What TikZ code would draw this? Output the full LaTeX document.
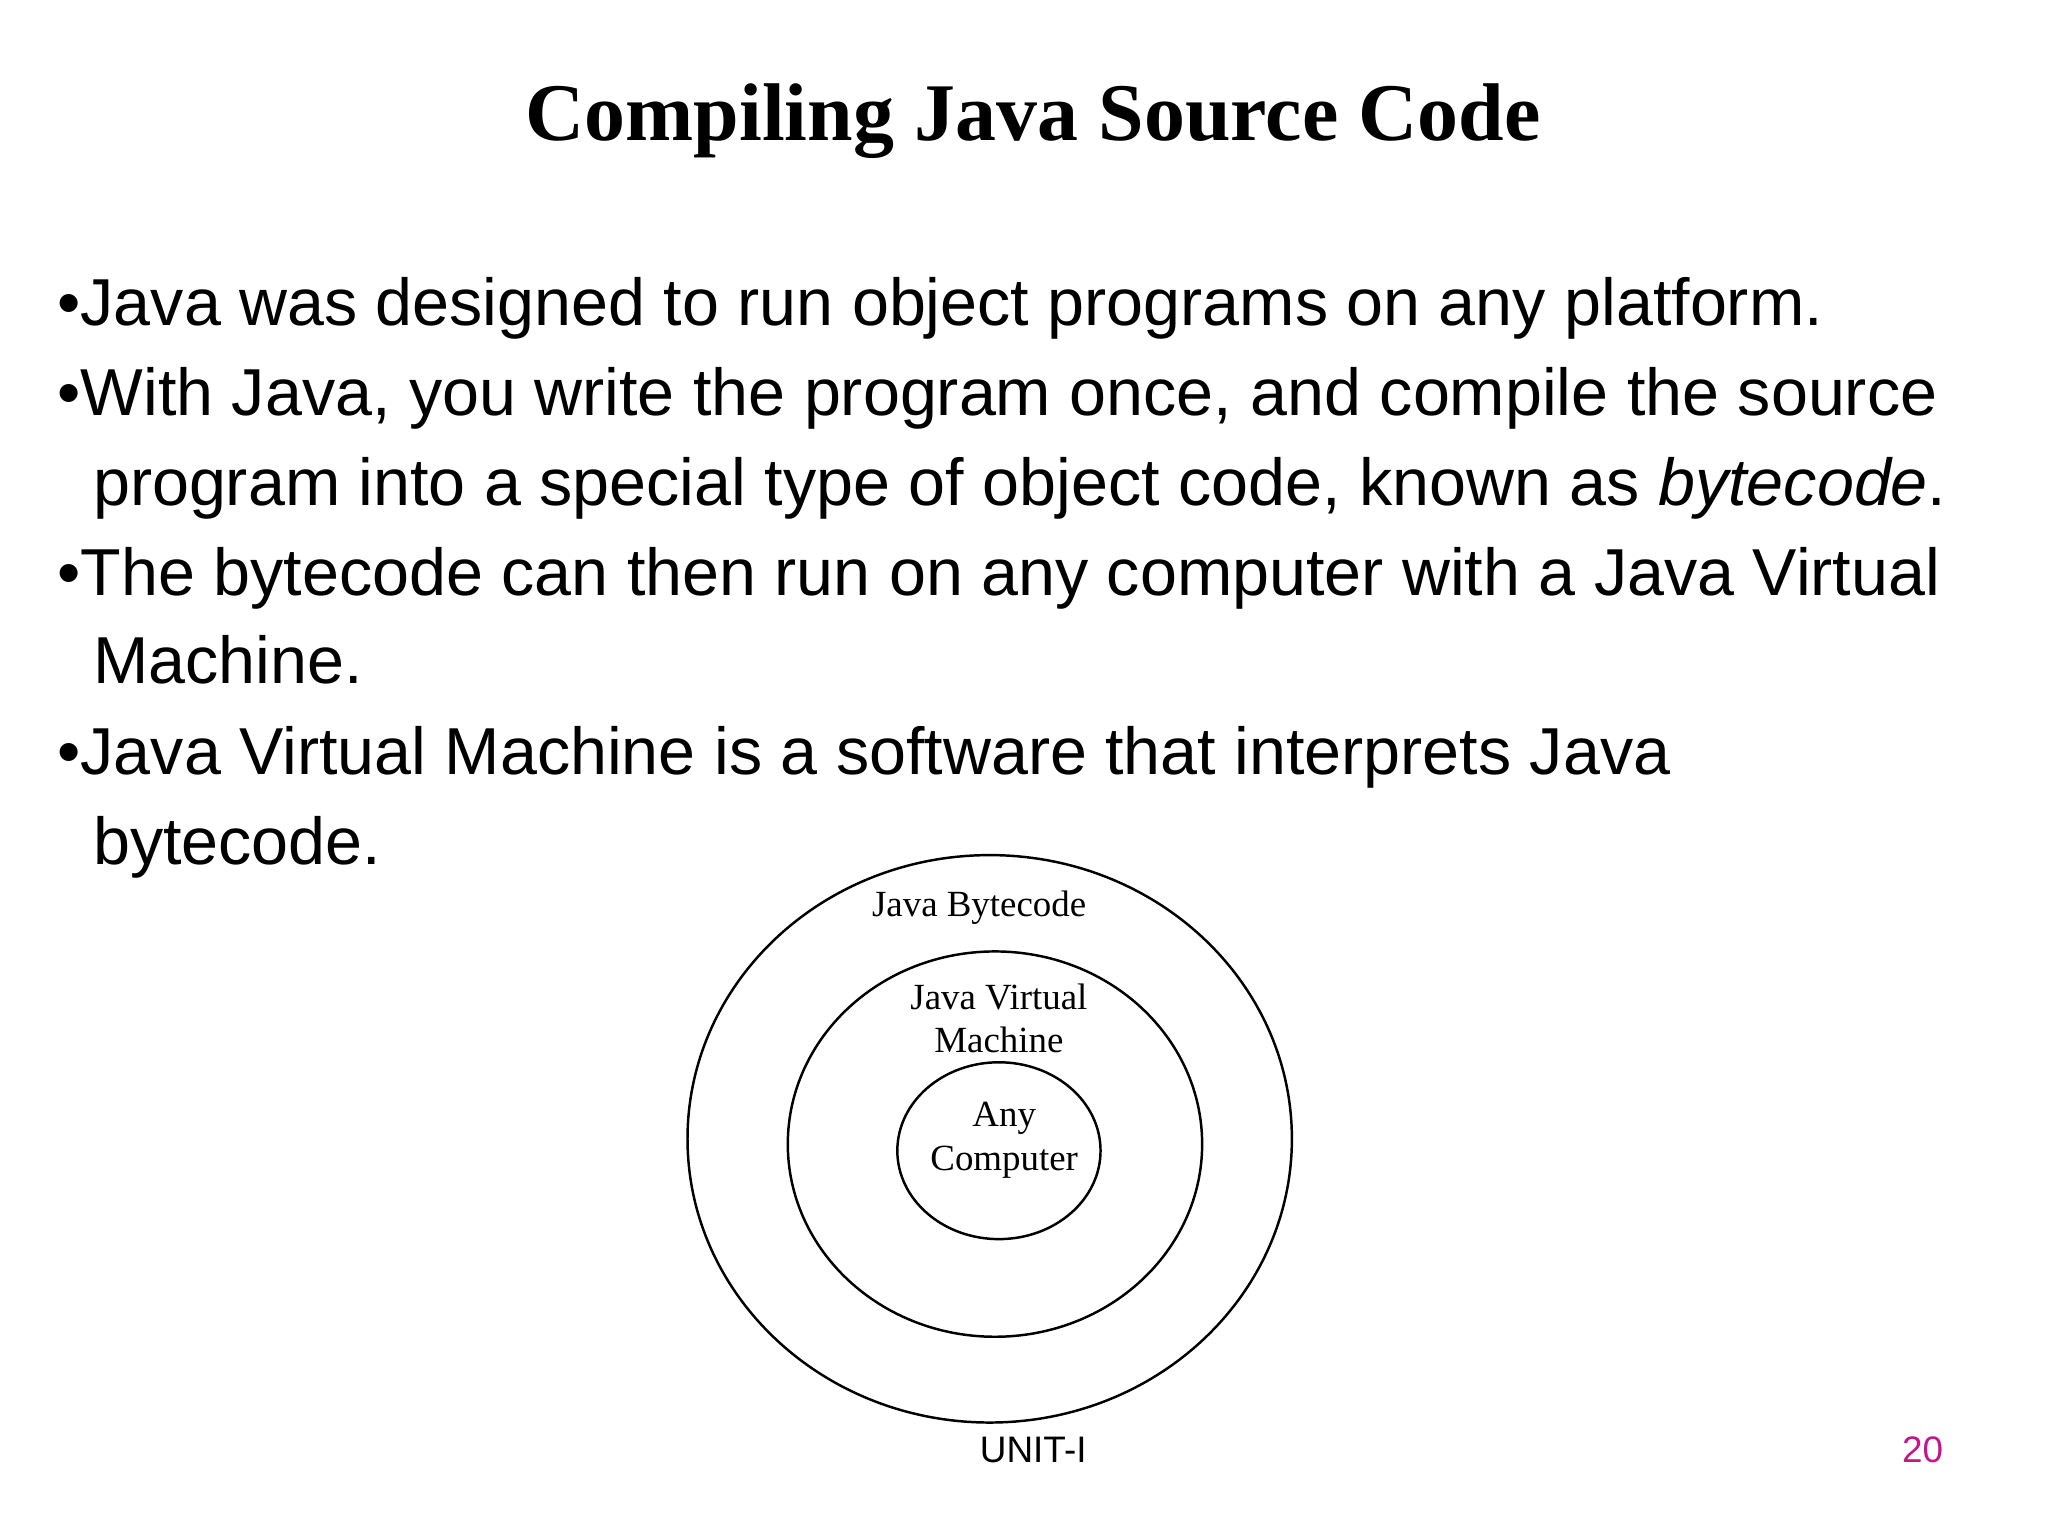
\documentclass[tikz,border=0pt]{standalone}
\usepackage{fontspec}
\setmainfont{Liberation Serif}
\setsansfont{Liberation Sans}
\usetikzlibrary{positioning}

\begin{document}
\begin{tikzpicture}[
    x=0.0132cm, y=-0.0132cm,
    title/.style={font=\fontsize{23.3}{27}\selectfont\bfseries},
    bullet/.style={anchor=base west, inner sep=0pt, font=\sffamily\fontsize{18.9}{22}\selectfont},
    ring/.style={draw, line width=0.7pt},
    label/.style={fill=white, inner sep=1pt, align=center, font=\fontsize{10.5}{12.3}\selectfont}
]
\useasboundingbox[fill=white] (0,0) rectangle (1552,1164);

% Title
\node[title] (ttl) at (783,92) {Compiling Java Source Code};

% Bullets
\node[bullet] (b1) at (43,247) {\textbullet Java was designed to run object programs on any platform.};
\node[bullet] (b2) at (43,315) {\textbullet With Java, you write the program once, and compile the source};
\node[bullet] (b2b) at (70,383) {program into a special type of object code, known as \textit{bytecode}.};
\node[bullet] (b3) at (43,451) {\textbullet The bytecode can then run on any computer with a Java Virtual};
\node[bullet] (b3b) at (70,518) {Machine.};
\node[bullet] (b4) at (43,587) {\textbullet Java Virtual Machine is a software that interprets Java};
\node[bullet] (b4b) at (70,655) {bytecode.};

% Rings
\draw[ring] (750,863) ellipse [x radius=229, y radius=215];
\draw[ring] (754,867) ellipse [x radius=157, y radius=146];
\draw[ring] (757,872) ellipse [x radius=77, y radius=67];

% Ring labels
\node[label] (bc) at (742,688) {Java Bytecode};
\node[label] (jvm) at (757,772) {Java Virtual\\Machine};
\node[label, fill=none] (pc) at (761,864) {Any\\Computer};

% Footer
\node[font=\sffamily\fontsize{10.5}{12}\selectfont] (unit) at (783,1099) {UNIT-I};
\node[font=\sffamily\fontsize{10.5}{12}\selectfont, text={rgb,255:red,200;green,20;blue,140}] (num) at (1457,1099) {20};
\end{tikzpicture}
\end{document}
